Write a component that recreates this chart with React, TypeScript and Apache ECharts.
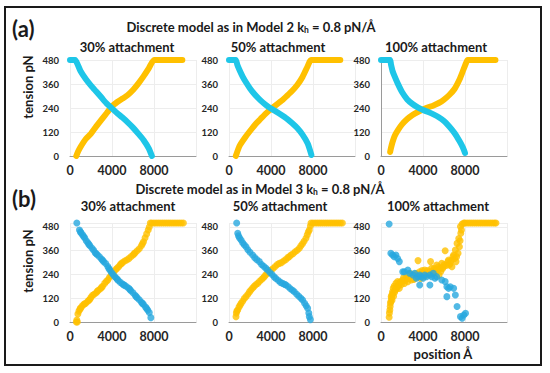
import React, { useEffect, useRef } from "react";
import * as echarts from "echarts";

const FONT = "Lato, 'Open Sans', sans-serif";
const ORANGE = "#FFC000";
const CYAN_A = "#1EC6E8";
const BLUE_B = "#27A7DE";

const panelTitles = ["30% attachment", "50% attachment", "100% attachment"];
const xTicks = [0, 4000, 8000];
const yTicks = [0, 120, 240, 360, 480];

// Row (a): Model 2
const a30Orange = [[600,0],[750,20],[1000,45],[1500,85],[2000,112],[2500,148],[3000,182],[3500,215],[4000,248],[4500,270],[5000,287],[5500,305],[6000,330],[6500,362],[7000,398],[7500,438],[8000,480],[8500,480],[9000,480],[9500,480],[10000,480],[10500,480],[10700,480]];
const a30Cyan = [[0,480],[250,480],[500,480],[750,455],[1000,425],[1500,385],[2000,352],[2500,322],[3000,292],[3500,262],[4000,238],[4500,214],[5000,192],[5500,168],[6000,142],[6500,112],[7000,80],[7500,38],[7800,0]];
const a50Orange = [[650,0],[1000,50],[1500,90],[2000,125],[2500,158],[3000,185],[3500,212],[4000,235],[4500,256],[5000,276],[5500,300],[6000,325],[6500,355],[7000,395],[7500,450],[7800,480],[8500,480],[9000,480],[9500,480],[10000,480],[10600,480]];
const a50Cyan = [[0,480],[300,480],[650,480],[800,455],[1000,430],[1300,397],[1600,370],[2000,338],[2500,305],[3000,278],[3500,256],[4000,237],[4500,222],[5000,205],[5500,187],[6000,165],[6500,140],[7000,107],[7500,62],[7850,5]];
const a100Orange = [[870,20],[950,40],[1100,70],[1300,100],[1600,128],[2000,158],[2500,185],[3000,205],[3500,220],[4000,232],[4500,243],[5000,253],[5500,265],[6000,282],[6500,305],[7000,335],[7500,385],[7800,425],[8100,465],[8250,480],[8500,480],[9000,480],[9500,480],[10000,480],[10500,480],[10900,480]];
const a100Cyan = [[0,480],[400,480],[870,480],[950,458],[1100,425],[1300,398],[1600,362],[2000,320],[2500,283],[3000,260],[3500,243],[4000,230],[4500,220],[5000,208],[5500,194],[6000,175],[6500,148],[7000,115],[7500,72],[7800,42],[8000,15]];

// Row (b): Model 3
const b30Cyan = [[650,500],[900,465],[1000,455],[1050,450],[1200,440],[1300,432],[1400,425],[1550,410],[1700,400],[1800,392],[1900,385],[2100,372],[2250,362],[2400,350],[2500,345],[2600,340],[2800,330],[3000,318],[3100,312],[3200,305],[3400,295],[3600,280],[3700,270],[3800,262],[3950,250],[4100,240],[4250,230],[4400,222],[4500,216],[4600,210],[4800,200],[5000,192],[5100,188],[5200,185],[5400,178],[5600,170],[5700,164],[5800,158],[6000,148],[6200,135],[6300,128],[6400,122],[6600,112],[6800,100],[6900,94],[7000,88],[7200,75],[7300,68],[7400,60],[7550,48],[7700,22]];
const b30Orange = [[600,0],[700,0],[650,10],[750,40],[850,55],[950,65],[1000,70],[1150,80],[1300,88],[1400,92],[1500,95],[1700,105],[1800,110],[1900,115],[2000,125],[2150,135],[2300,140],[2500,148],[2600,155],[2700,160],[2900,168],[3000,174],[3100,180],[3300,195],[3450,205],[3600,212],[3750,225],[3900,235],[4050,245],[4200,255],[4350,265],[4500,272],[4650,280],[4800,290],[4900,295],[5000,300],[5200,308],[5400,313],[5600,320],[5800,330],[6000,338],[6100,344],[6200,350],[6400,360],[6600,370],[6800,385],[6900,395],[7000,405],[7150,425],[7300,445],[7450,465],[7550,480],[7650,500],[7800,500],[8000,500],[8200,500],[8400,500],[8600,500],[8800,500],[9000,500],[9200,500],[9400,500],[9600,500],[9800,500],[10000,500],[10200,500],[10400,500],[10600,500],[10800,500]];
const b50Cyan = [[730,500],[830,448],[900,435],[1000,425],[1150,414],[1300,400],[1450,390],[1620,380],[1800,365],[2000,352],[2250,338],[2450,325],[2650,315],[2890,305],[3100,290],[3300,282],[3500,272],[3680,263],[3900,250],[4100,240],[4300,228],[4470,220],[4700,210],[4900,200],[5100,195],[5300,190],[5430,187],[5650,178],[5850,168],[6050,160],[6220,153],[6450,140],[6650,130],[6850,120],[7010,111],[7200,95],[7350,82],[7490,69],[7600,45],[7650,27],[7750,12]];
const b50Orange = [[666,27],[700,45],[750,55],[830,61],[950,75],[1050,85],[1150,94],[1300,105],[1450,118],[1620,128],[1800,140],[1950,152],[2090,162],[2250,172],[2400,180],[2550,188],[2730,195],[2900,205],[3100,215],[3250,222],[3360,229],[3500,238],[3700,248],[3850,255],[4000,263],[4200,270],[4400,280],[4600,290],[4790,296],[5000,300],[5200,308],[5400,315],[5600,325],[5740,330],[5900,338],[6100,345],[6300,355],[6500,362],[6700,372],[6850,385],[7000,395],[7150,408],[7330,423],[7450,440],[7550,455],[7650,465],[7750,485],[7810,500],[8000,500],[8200,500],[8400,500],[8600,500],[8800,500],[9000,500],[9200,500],[9400,500],[9600,500],[9800,500],[10000,500],[10200,500],[10400,500],[10600,500],[10800,500]];
const b100Cyan = [[776,495],[938,347],[1099,338],[1261,330],[1423,338],[1585,321],[1746,305],[2069,254],[2231,254],[2554,262],[2716,246],[3039,237],[3201,246],[3363,221],[3525,229],[3686,237],[3686,187],[3848,229],[4010,221],[4171,237],[4333,229],[4656,237],[4656,187],[4818,229],[4980,246],[5141,221],[5303,229],[5788,212],[6111,204],[6273,178],[6435,170],[6596,178],[6920,170],[6273,128],[7081,136],[7243,78],[7566,27],[7728,19],[7889,35],[8051,44]];
const b100Orange = [[776,24],[800,45],[841,61],[873,78],[900,95],[938,103],[970,128],[1003,120],[1050,110],[1035,136],[1099,153],[1130,145],[1164,170],[1200,130],[1261,182],[1300,150],[1358,162],[1423,195],[1450,165],[1487,175],[1585,204],[1620,180],[1681,187],[1746,170],[1800,200],[1908,204],[1950,190],[2069,212],[2150,225],[2231,195],[2300,210],[2392,221],[2480,235],[2554,204],[2650,220],[2716,229],[2800,245],[2877,212],[2950,230],[3039,237],[3120,215],[3201,221],[3280,235],[3363,246],[3450,230],[3525,310],[3600,240],[3686,254],[3760,220],[3848,229],[3920,260],[4010,246],[4100,230],[4171,263],[4250,245],[4333,237],[4450,260],[4550,240],[4721,305],[4656,254],[4818,271],[4900,255],[4980,246],[5060,270],[5141,263],[5220,250],[5303,288],[5400,265],[5529,237],[5465,279],[5626,271],[5700,255],[5788,296],[5870,270],[5950,279],[6030,290],[6111,360],[6200,285],[6369,305],[6499,288],[6435,313],[6596,296],[6680,310],[6855,330],[6758,279],[7016,321],[6920,338],[7146,305],[7081,364],[7200,330],[7340,347],[7243,397],[7469,380],[7405,422],[7530,410],[7599,448],[7663,465],[7566,482],[7728,495],[7889,500],[8000,500],[8200,500],[8400,500],[8600,500],[8800,500],[9000,500],[9200,500],[9400,500],[9600,500],[9800,500],[10000,500],[10200,500],[10400,500],[10600,500],[10800,500],[10950,500]];

const rowA = [[a30Orange, a30Cyan], [a50Orange, a50Cyan], [a100Orange, a100Cyan]];
const rowB = [[b30Orange, b30Cyan], [b50Orange, b50Cyan], [b100Orange, b100Cyan]];

const lefts = [70, 229, 381];

function buildOption() {
  const grid: any[] = [];
  const xAxis: any[] = [];
  const yAxis: any[] = [];
  const series: any[] = [];
  for (let r = 0; r < 2; r++) {
    for (let c = 0; c < 3; c++) {
      const i = r * 3 + c;
      grid.push({ left: lefts[c], width: 126, top: r === 0 ? 60 : 223, height: r === 0 ? 96 : 99 });
      xAxis.push({
        gridIndex: i, type: "value", min: 0, max: 12000, interval: 4000,
        axisLine: { show: true, lineStyle: { color: "#9A9A9A", width: 1 } },
        axisTick: { show: false },
        splitLine: { show: true, lineStyle: { color: "#EDEDED", width: 1 } },
        axisLabel: {
          showMaxLabel: false, fontSize: 12.5, fontWeight: "bold", color: "#262626", margin: 8, fontFamily: FONT,
          formatter: (v: number) => (xTicks.includes(v) ? String(v) : ""),
        },
      });
      yAxis.push({
        gridIndex: i, type: "value", min: 0, max: r === 0 ? 480 : 500, interval: 120,
        axisLine: { show: r === 0 && c === 2, lineStyle: { color: "#9A9A9A", width: 1 } },
        axisTick: { show: false },
        splitLine: { show: true, lineStyle: { color: "#EDEDED", width: 1 } },
        axisLabel: {
          showMaxLabel: r === 0, fontSize: 9.5, fontWeight: "bold", color: "#262626", margin: 11, fontFamily: FONT,
          formatter: (v: number) => (yTicks.includes(v) ? String(v) : ""),
        },
      });
      if (r === 0) {
        const [o, cy] = rowA[c];
        series.push({ type: "line", xAxisIndex: i, yAxisIndex: i, data: o, showSymbol: false, smooth: 0.2,
          lineStyle: { color: ORANGE, width: 6, cap: "round", join: "round" }, itemStyle: { color: ORANGE } });
        series.push({ type: "line", xAxisIndex: i, yAxisIndex: i, data: cy, showSymbol: false, smooth: 0.2,
          lineStyle: { color: CYAN_A, width: 6, cap: "round", join: "round" }, itemStyle: { color: CYAN_A } });
      } else {
        const [o, cy] = rowB[c];
        series.push({ type: "scatter", xAxisIndex: i, yAxisIndex: i, data: o, symbolSize: 7, itemStyle: { color: ORANGE } });
        series.push({ type: "scatter", xAxisIndex: i, yAxisIndex: i, data: cy, symbolSize: 7, itemStyle: { color: BLUE_B } });
      }
    }
  }

  const txt = (text: string, x: number, y: number, size: number, extra: any = {}) => ({
    type: "text", x, y, ...extra,
    style: { text, fontSize: size, fontWeight: "bold", fontFamily: FONT, fill: "#1A1A1A", align: extra.align || "center", verticalAlign: "middle", ...(extra.style || {}) },
  });
  const richSub = {
    rich: {
      m: { fontSize: 13, fontWeight: "bold", fontFamily: FONT, fill: "#1A1A1A", lineHeight: 15 },
      s: { fontSize: 8.5, fontWeight: "bold", fontFamily: FONT, fill: "#1A1A1A", lineHeight: 8, verticalAlign: "bottom" },
    },
  };
  const titleA = "{m|Discrete model as in Model 2 k}{s|h}{m| = 0.8 pN/Å}";
  const titleB = "{m|Discrete model as in Model 3 k}{s|h}{m| = 0.8 pN/Å}";
  const panelA = [127, 278, 436];
  const panelB = [128, 280, 438];

  const graphic: any[] = [
    { type: "rect", shape: { x: 5, y: 7, width: 536, height: 358 }, style: { fill: "none", stroke: "#1A1A1A", lineWidth: 2 } },
    txt("(a)", 12, 28, 22, { align: "left" }),
    txt("(b)", 12, 198, 22, { align: "left" }),
    { type: "text", x: 251, y: 27, style: { text: titleA, align: "center", verticalAlign: "middle", ...richSub } },
    { type: "text", x: 260, y: 189, style: { text: titleB, align: "center", verticalAlign: "middle", ...richSub } },
    txt("tension pN", 28, 87, 13, { rotation: Math.PI / 2 }),
    txt("tension pN", 28, 261, 13, { rotation: Math.PI / 2 }),
    txt("position Å", 443, 354, 13),
  ];
  panelTitles.forEach((t, k) => {
    graphic.push(txt(t, panelA[k], 47, 13));
    graphic.push(txt(t, panelB[k], 206, 13));
  });

  return { animation: false, backgroundColor: "#ffffff", grid, xAxis, yAxis, series, graphic };
}

export default function App() {
  const ref = useRef<HTMLDivElement>(null);
  useEffect(() => {
    const chart = echarts.init(ref.current!, null, { renderer: "svg" });
    chart.setOption(buildOption() as any);
    return () => chart.dispose();
  }, []);
  return (
    <div
      ref={ref}
      style={{ position: "fixed", left: 0, top: 0, width: 550, height: 373, background: "#fff" }}
    />
  );
}
